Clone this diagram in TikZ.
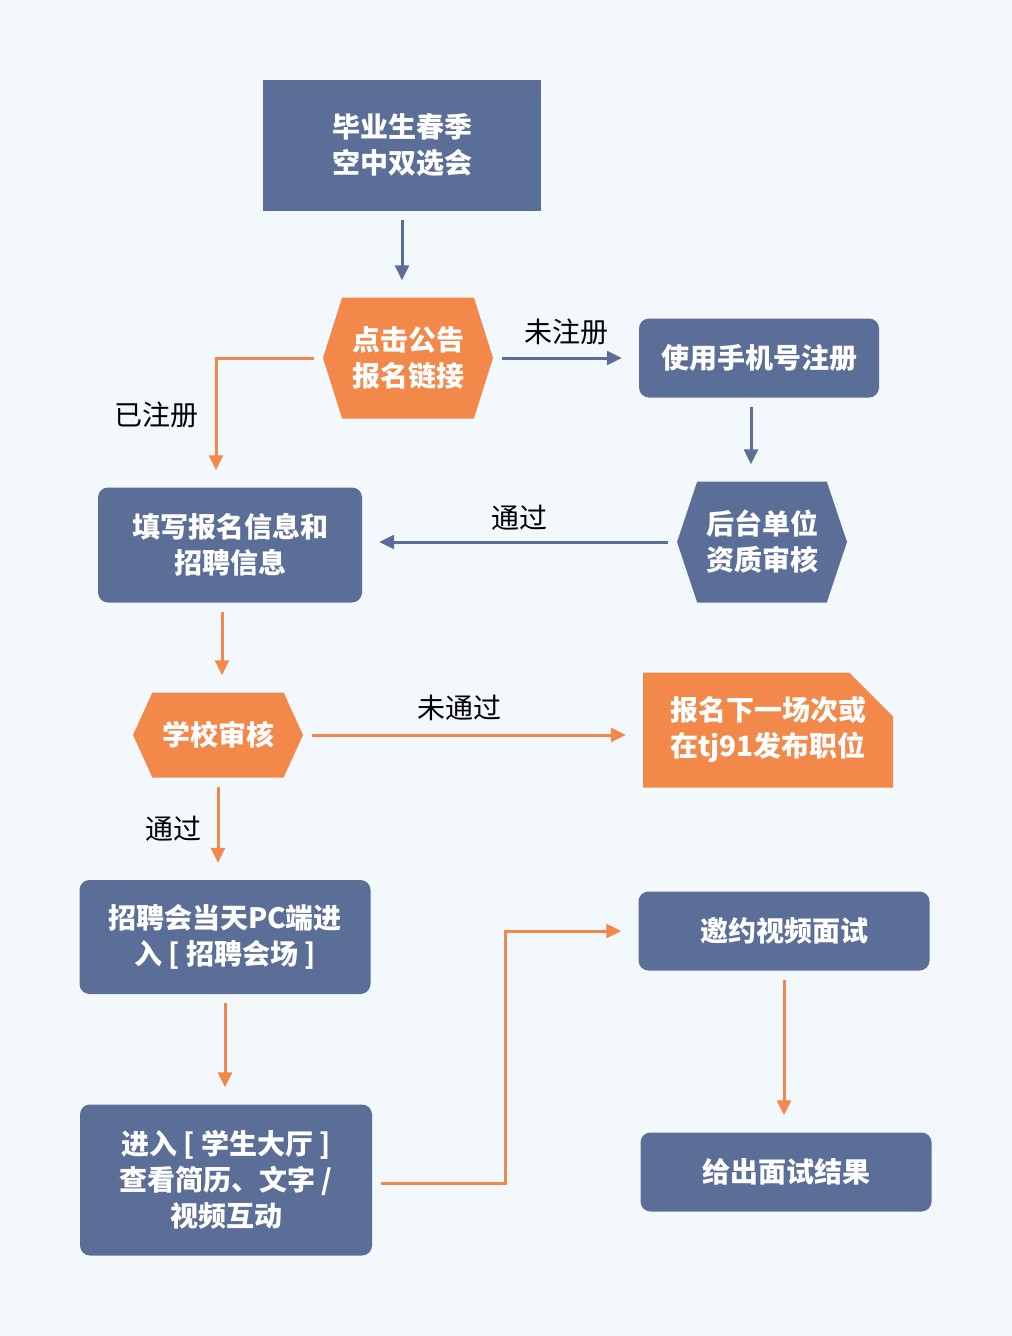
\documentclass[tikz,border=0pt]{standalone}
\usepackage{fontspec}
\setmainfont{Noto Sans CJK SC}
\usetikzlibrary{arrows.meta,shapes.symbols,shapes.misc}
\definecolor{flowblue}{HTML}{5A6E97}
\definecolor{floworange}{HTML}{F2894B}
\definecolor{flowbg}{HTML}{F3F8FD}
\newcommand\flowfont{\fontsize{28}{36}\selectfont}
\tikzset{
  flowroot/.style  = {rectangle, fill=flowblue, text=white, align=center,
                      font=\flowfont\bfseries, inner sep=2pt},
  flowstep/.style  = {rectangle, rounded corners=10pt, fill=flowblue, text=white,
                      align=center, font=\flowfont\bfseries, inner sep=2pt},
  flowhexo/.style  = {signal, signal to=west and east, fill=floworange, text=white,
                      align=center, font=\flowfont\bfseries, inner sep=2pt},
  flowhexb/.style  = {signal, signal to=west and east, fill=flowblue, text=white,
                      align=center, font=\flowfont\bfseries, inner sep=2pt},
  flowalt/.style   = {chamfered rectangle, chamfered rectangle corners=north east,
                      chamfered rectangle sep=22pt, fill=floworange, text=white,
                      align=center, font=\flowfont\bfseries, inner sep=2pt},
  flowarrb/.style  = {-{Triangle[length=15pt,width=14pt]}, draw=flowblue, line width=3pt,
                      shorten <=9pt, shorten >=17pt},
  flowarro/.style  = {-{Triangle[length=15pt,width=14pt]}, draw=floworange, line width=3pt,
                      shorten <=9pt, shorten >=17pt},
  flowlbl/.style   = {font=\flowfont, text=black, inner sep=3pt},
}
\begin{document}
\begin{tikzpicture}[x=1pt, y=-1pt]
  \fill[flowbg] (0,0) rectangle (1012,1336);
  \useasboundingbox (0,0) rectangle (1012,1336);

  \node[flowroot, minimum width=278, minimum height=131] (root) at (402,145) {毕业生春季\\空中双选会};
  \node[flowhexo, minimum width=170, minimum height=121, signal pointer angle=145] (link) at (408,358) {点击公告\\报名链接};
  \node[flowstep, minimum width=240, minimum height=79] (reg) at (759,358) {使用手机号注册};
  \node[flowhexb, minimum width=170, minimum height=121, signal pointer angle=143] (audit) at (762,542) {后台单位\\资质审核};
  \node[flowstep, minimum width=264, minimum height=115] (fill) at (230,545) {填写报名信息和\\招聘信息};
  \node[flowhexo, minimum width=170, minimum height=85, signal pointer angle=131] (school) at (218,735) {学校审核};
  \node[flowalt, minimum width=250, minimum height=115] (next) at (768,730) {报名下一场次或\\在tj91发布职位};
  \node[flowstep, minimum width=291, minimum height=114] (pc) at (225,937) {招聘会当天PC端进\\入 [ 招聘会场 ]};
  \node[flowstep, minimum width=292, minimum height=151] (hall) at (226,1180) {进入 [ 学生大厅 ]\\查看简历、文字 /\\视频互动};
  \node[flowstep, minimum width=291, minimum height=79] (invite) at (784,931) {邀约视频面试};
  \node[flowstep, minimum width=291, minimum height=79] (result) at (786,1172) {给出面试结果};

  \draw[flowarrb] (root) -- (root |- link.north);
  \draw[flowarrb] (link.east) -- node[flowlbl, above=9pt]{未注册} (link.east -| reg.west);
  \draw[flowarro] (link.west) -| node[flowlbl, left=13pt, pos=0.72]{已注册} ([xshift=-14pt]fill.north);
  \draw[flowarrb] ([xshift=-8pt]reg.south) -- ([xshift=-8pt]reg.south |- audit.north);
  \draw[flowarrb] (audit.west) -- node[flowlbl, above=7pt]{通过} (audit.west -| fill.east);
  \draw[flowarro] ([xshift=-8pt]fill.south) -- ([xshift=-8pt]fill.south |- school.north);
  \draw[flowarro] (school.east) -- node[flowlbl, above=10pt, pos=0.46]{未通过} (school.east -| next.west);
  \draw[flowarro] (school.south) -- node[flowlbl, left=12pt]{通过} (school.south |- pc.north);
  \draw[flowarro] (pc.south) -- (pc.south |- hall.north);
  \draw[flowarro] ([yshift=-3pt]hall.east) -- ++(133,0) |- (invite.west);
  \draw[flowarro] (invite.south) -- (invite.south |- result.north);
\end{tikzpicture}
\end{document}
